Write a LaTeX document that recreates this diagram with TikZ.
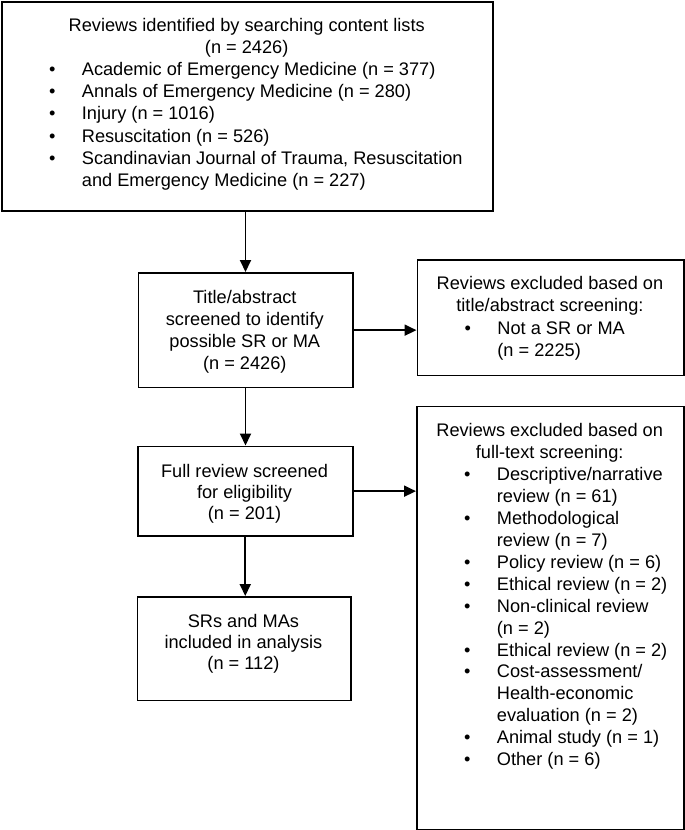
\documentclass[tikz,border=0pt]{standalone}
\usepackage{fontspec}
\setmainfont{Liberation Sans}
\usetikzlibrary{arrows.meta}
\newcommand{\bitem}[1]{\par\hangindent=80.7pt\hangafter=1\noindent\makebox[80.7pt][l]{\hspace*{47.8pt}\textbullet}#1}
\begin{document}
\begin{tikzpicture}[x=1pt,y=-1pt,
  box/.style={draw=black, line width=1.8pt, rectangle, inner sep=0pt, anchor=north west},
  txt/.style={inner sep=0pt, anchor=base west},
  arr/.style={line width=1.9pt, -{Triangle[length=12pt,width=11pt]}}]
\useasboundingbox (0,0) rectangle (685,830);
% boxes
\node[box, minimum width=491pt, minimum height=209pt] (top) at (1,1) {};
\node[box, minimum width=214.2pt, minimum height=114.5pt] (b2) at (137.5,272) {};
\node[box, minimum width=266.5pt, minimum height=115.5pt] (e1) at (416.5,259) {};
\node[box, minimum width=214.7pt, minimum height=89.5pt] (b3) at (137,445.5) {};
\node[box, minimum width=267pt, minimum height=423.5pt] (e2) at (416,405.5) {};
\node[box, minimum width=213.5pt, minimum height=103.5pt] (b4) at (136.5,596) {};
% texts
\node[txt] (t0) at (1,31.5) {\parbox[t]{491pt}{\fontsize{18.2pt}{22.1pt}\selectfont
  {\centering Reviews identified by searching content lists\\(n = 2426)\par}\raggedright
  \bitem{Academic of Emergency Medicine (n = 377)}
  \bitem{Annals of Emergency Medicine (n = 280)}
  \bitem{Injury (n = 1016)}
  \bitem{Resuscitation (n = 526)}
  \bitem{Scandinavian Journal of Trauma, Resuscitation\newline and Emergency Medicine (n = 227)}\par}};
\node[txt] (t1) at (137.5,303.5) {\parbox[t]{214.2pt}{\fontsize{18.2pt}{22pt}\selectfont\centering
  Title/abstract\\screened to identify\\possible SR or MA\\(n = 2426)\par}};
\node[txt] (t2) at (416.5,289.5) {\parbox[t]{266.5pt}{\fontsize{18.2pt}{22.3pt}\selectfont
  {\centering Reviews excluded based on\\title/abstract screening:\par}\raggedright
  \bitem{Not a SR or MA\newline (n = 2225)}\par}};
\node[txt] (t3) at (137,477.5) {\parbox[t]{214.7pt}{\fontsize{18.2pt}{21pt}\selectfont\centering
  Full review screened\\for eligibility\\(n = 201)\par}};
\node[txt] (t4) at (416,436.5) {\parbox[t]{267pt}{\fontsize{18.2pt}{21.95pt}\selectfont
  {\centering Reviews excluded based on\\full-text screening:\par}\raggedright
  \bitem{Descriptive/narrative\newline review (n = 61)}
  \bitem{Methodological\newline review (n = 7)}
  \bitem{Policy review (n = 6)}
  \bitem{Ethical review (n = 2)}
  \bitem{Non-clinical review\newline (n = 2)}
  \bitem{Ethical review (n = 2)}
  \bitem{Cost-assessment/\newline Health-economic\newline evaluation (n = 2)}
  \bitem{Animal study (n = 1)}
  \bitem{Other (n = 6)}\par}};
\node[txt] (t5) at (136.5,627.5) {\parbox[t]{213.5pt}{\fontsize{18.2pt}{21pt}\selectfont\centering
  SRs and MAs\\included in analysis\\(n = 112)\par}};
% arrows
\draw[arr] (top.south -| b2.north) -- (b2.north);
\draw[arr] (b2.south) -- (b3.north -| b2.south);
\draw[arr] (b3.south) -- (b4.north -| b3.south);
\draw[arr] (b2.east) -- (e1.west |- b2.east);
\draw[arr] (b3.east) -- (e2.west |- b3.east);
\end{tikzpicture}
\end{document}
